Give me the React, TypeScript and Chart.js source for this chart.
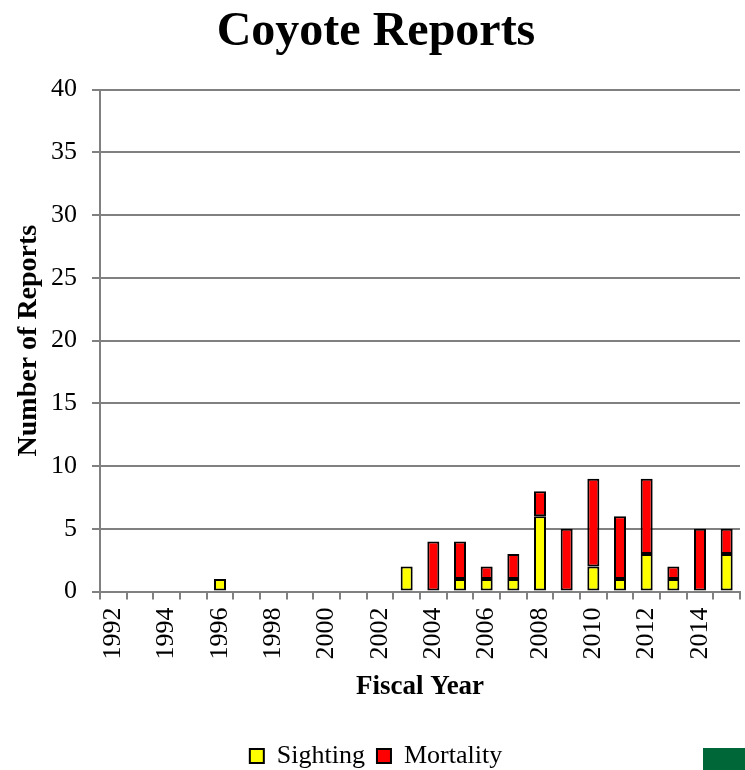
import React, { useEffect, useRef } from "react";
import { Chart, registerables } from "chart.js";

Chart.register(...registerables);

const years = ["1992","1993","1994","1995","1996","1997","1998","1999","2000","2001","2002","2003","2004","2005","2006","2007","2008","2009","2010","2011","2012","2013","2014","2015"];
const sighting = [0,0,0,0,1,0,0,0,0,0,0,2,0,1,1,1,6,0,2,1,3,1,0,3];
const mortality = [0,0,0,0,0,0,0,0,0,0,0,0,4,3,1,2,2,5,7,5,6,1,5,2];
const yTicks = [0,5,10,15,20,25,30,35,40];

const FONT = "'Liberation Serif', 'Times New Roman', serif";

export default function App() {
  const ref = useRef<HTMLCanvasElement>(null);
  useEffect(() => {
    if (!ref.current) return;
    const chart = new Chart(ref.current, {
      type: "bar",
      data: {
        labels: years,
        datasets: [
          { label: "Sighting", data: sighting.map(v => v || null), backgroundColor: "#ffff00", borderColor: "#000", borderWidth: 2, borderSkipped: false, barPercentage: 0.45, categoryPercentage: 1 },
          { label: "Mortality", data: mortality.map(v => v || null), backgroundColor: "#ff0000", borderColor: "#000", borderWidth: 2, borderSkipped: false, barPercentage: 0.45, categoryPercentage: 1 },
        ],
      },
      options: {
        animation: false,
        responsive: false,
        maintainAspectRatio: false,
        layout: { padding: { left: 12, right: 5, top: 0, bottom: -9 } },
        plugins: {
          title: { display: true, text: "Coyote Reports", color: "#000", font: { family: FONT, size: 48, weight: "bold" }, padding: { top: 4, bottom: 28 } },
          legend: {
            position: "bottom",
            labels: { color: "#000", boxWidth: 14, boxHeight: 14, font: { family: FONT, size: 26 }, padding: 12 },
          },
          tooltip: { enabled: false },
        },
        scales: {
          x: {
            stacked: true,
            grid: { display: true, offset: true, drawOnChartArea: false, drawTicks: true, tickLength: 8, color: "#808080", lineWidth: 2 },
            border: { color: "#808080", width: 2 },
            ticks: {
              color: "#000", font: { family: FONT, size: 26 }, maxRotation: 90, minRotation: 90, autoSkip: false, padding: 8,
              callback: (v: any, i: number) => (i % 2 === 0 ? years[i] : ""),
            },
            title: { display: true, text: "Fiscal Year", color: "#000", font: { family: FONT, size: 27, weight: "bold" }, padding: { top: 3, bottom: 28 } },
            afterFit: (s: any) => { s.paddingLeft = 0; s.paddingRight = 0; },
          },
          y: {
            stacked: true,
            min: 0, max: 40,
            afterBuildTicks: (axis: any) => { axis.ticks = yTicks.map(v => ({ value: v })); },
            grid: { color: "#808080", lineWidth: 2, tickLength: 8 },
            border: { color: "#808080", width: 2 },
            ticks: { color: "#000", font: { family: FONT, size: 26 }, padding: 15 },
            title: { display: true, text: "Number of Reports", color: "#000", font: { family: FONT, size: 28, weight: "bold" }, padding: { top: 0, bottom: 6 } },
            afterFit: (s: any) => { s.width = 88; },
          },
        },
      },
    });
    return () => chart.destroy();
  }, []);
  return (
    <div style={{ position: "absolute", left: 0, top: 0, width: 745, height: 770, background: "#fff", overflow: "hidden" }}>
      <canvas ref={ref} width={745} height={770} style={{ display: "block" }} />
      <div style={{ position: "absolute", left: 703, top: 748, width: 42, height: 22, background: "#006838" }} />
    </div>
  );
}
